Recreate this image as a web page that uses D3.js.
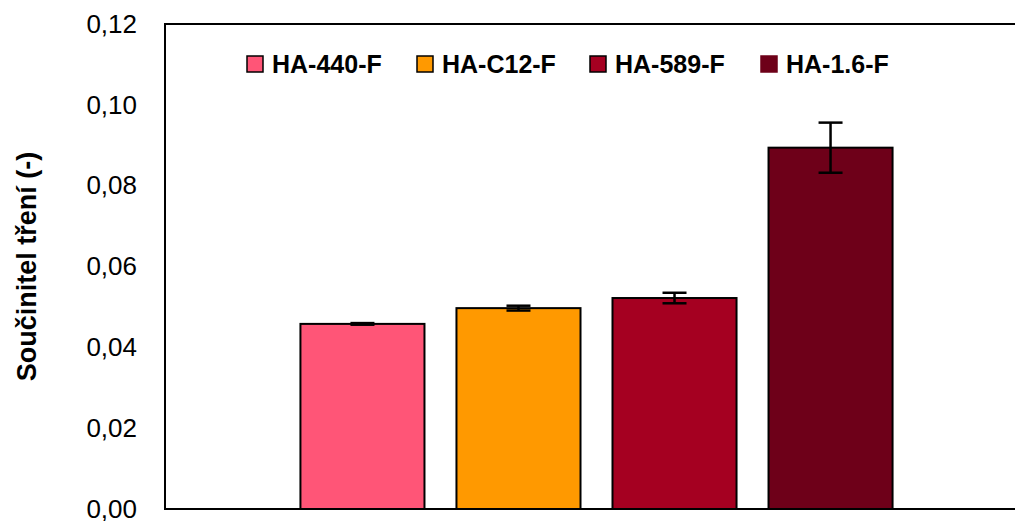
<!DOCTYPE html>
<html><head><meta charset="utf-8">
<script src="https://cdn.jsdelivr.net/npm/d3@7"></script>
<style>body{margin:0;background:#fff}svg{display:block}</style>
</head><body>
<svg id="c" width="1015" height="521"></svg>
<script>
const series = ["HA-440-F", "HA-C12-F", "HA-589-F", "HA-1.6-F"];
const values = [0.0458, 0.0497, 0.0522, 0.0894];
const errors = [0.0002, 0.0006, 0.0013, 0.0062];
const colors = ["#FF5577", "#FF9900", "#A50021", "#6E0019"];
const yTicks = [0, 0.02, 0.04, 0.06, 0.08, 0.10, 0.12];
const yTitle = "Součinitel tření (-)";

const svg = d3.select("#c");
const L = 165, R = 1028, T = 24, B = 509;
const y = d3.scaleLinear().domain([0, 0.12]).range([B, T]);
const x = d3.scaleBand().domain(series).range([L, R]).paddingInner(0.205).paddingOuter(0.868);
const fmt = d => d3.format(".2f")(d).replace(".", ",");

// plot border
svg.append("rect").attr("x", L).attr("y", T).attr("width", R - L).attr("height", B - T)
  .attr("fill", "none").attr("stroke", "#000").attr("stroke-width", 2);

// y axis labels
const yAxis = d3.axisLeft(y).tickValues(yTicks).tickFormat(fmt).tickSize(0).tickPadding(28);
const ga = svg.append("g").attr("transform", `translate(${L},0)`).call(yAxis);
ga.select(".domain").remove();
ga.selectAll("text").attr("font-family", "Liberation Sans, Arial, sans-serif").attr("font-size", 26).attr("fill", "#000");

// bars
svg.append("g").selectAll("rect").data(series).join("rect")
  .attr("x", d => x(d)).attr("width", x.bandwidth())
  .attr("y", (d, i) => y(values[i])).attr("height", (d, i) => y(0) - y(values[i]))
  .attr("fill", (d, i) => colors[i]).attr("stroke", "#000").attr("stroke-width", 2);

// error bars
const eg = svg.append("g").attr("stroke", "#000").attr("stroke-width", 2.5);
series.forEach((s, i) => {
  const cx = x(s) + x.bandwidth() / 2;
  const y1 = y(values[i] + errors[i]), y2 = y(values[i] - errors[i]);
  eg.append("line").attr("x1", cx).attr("x2", cx).attr("y1", y1).attr("y2", y2);
  eg.append("line").attr("x1", cx - 12).attr("x2", cx + 12).attr("y1", y1).attr("y2", y1);
  eg.append("line").attr("x1", cx - 12).attr("x2", cx + 12).attr("y1", y2).attr("y2", y2);
});

// legend
const legX = [247, 417, 590, 761];
const lg = svg.append("g");
series.forEach((s, i) => {
  lg.append("rect").attr("x", legX[i]).attr("y", 56).attr("width", 16).attr("height", 16)
    .attr("fill", colors[i]).attr("stroke", i === 3 ? colors[i] : "#000").attr("stroke-width", 1.5);
  lg.append("text").attr("x", legX[i] + 25).attr("y", 73).text(s)
    .attr("font-family", "Liberation Sans, Arial, sans-serif").attr("font-weight", "bold")
    .attr("font-size", 25).attr("fill", "#000");
});

// y title
svg.append("text").attr("transform", `translate(36,${(T + B) / 2}) rotate(-90)`)
  .attr("text-anchor", "middle").text(yTitle)
  .attr("font-family", "Liberation Sans, Arial, sans-serif").attr("font-weight", "bold")
  .attr("font-size", 27).attr("fill", "#000");
</script>
</body></html>
